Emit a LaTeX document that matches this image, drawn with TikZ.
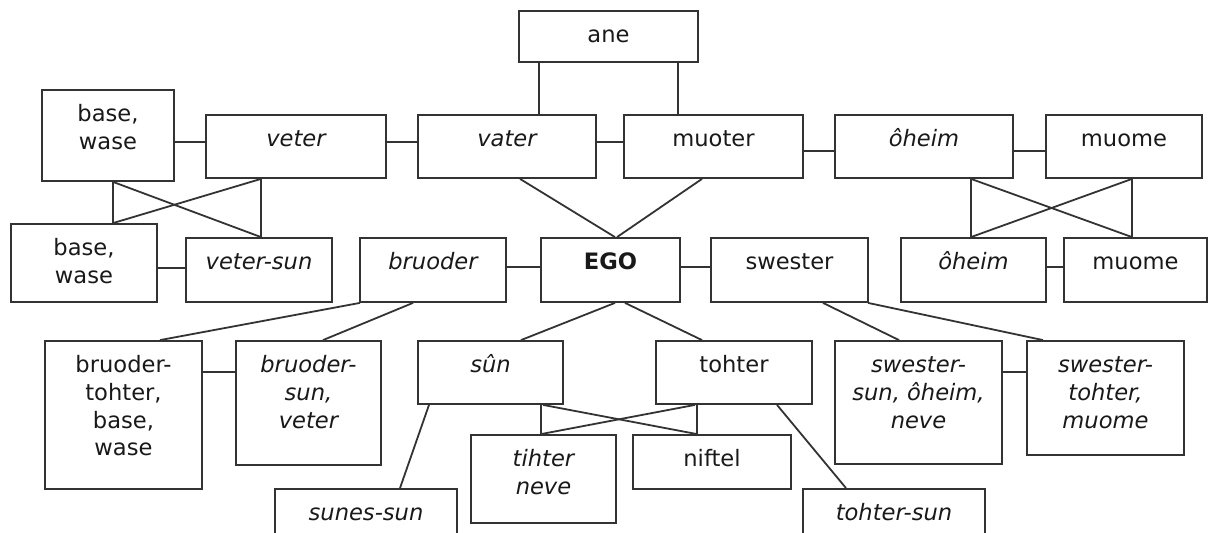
\documentclass[tikz,border=0pt]{standalone}
\usepackage{fontspec}
\setmainfont{DejaVu Sans}
\usetikzlibrary{fit}
\usetikzlibrary{calc}

\tikzset{
    kinbox/.style  = {draw, inner sep = 0pt},
    kinname/.style = {anchor = north, yshift = -6.3pt, inner sep = 0pt, align = center},
    kinrm/.style   = {font = \fontsize{11.3}{13.8}\selectfont},
    kinit/.style   = {font = \fontsize{11.3}{13.8}\selectfont\itshape},
    kinbf/.style   = {font = \fontsize{11.3}{13.8}\selectfont\bfseries},
}

\begin{document}
\begin{tikzpicture}[x = 0.5pt, y = -0.5pt, black!80, line width = 0.9pt, text = black!90]

\useasboundingbox[clip] (0,0) rectangle (1209,533);

% the kin terms
\foreach \NAME/\XA/\YA/\XB/\YB/\FONT/\TEXT in {
    ane/519/11/698/62/kinrm/{ane},
    basea/42/90/174/181/kinrm/{base,\\wase},
    veter/206/115/386/178/kinit/{veter},
    vater/418/115/596/178/kinit/{vater},
    muoter/624/115/803/178/kinrm/{muoter},
    oheima/835/115/1013/178/kinit/{ôheim},
    muomea/1046/115/1202/178/kinrm/{muome},
    baseb/11/224/157/302/kinrm/{base,\\wase},
    vetersun/186/238/332/302/kinit/{veter-sun},
    bruoder/360/238/506/302/kinit/{bruoder},
    ego/541/238/680/302/kinbf/{EGO},
    swester/711/238/868/302/kinrm/{swester},
    oheimb/901/238/1046/302/kinit/{ôheim},
    muomeb/1064/238/1207/302/kinrm/{muome},
    bruodertohter/45/341/202/489/kinrm/{bruoder-\\tohter,\\base,\\wase},
    bruodersun/236/341/381/465/kinit/{bruoder-\\sun,\\veter},
    sun/418/341/563/404/kinit/{sûn},
    tohter/656/341/812/404/kinrm/{tohter},
    swestersun/835/341/1002/464/kinit/{swester-\\sun, ôheim,\\neve},
    swestertohter/1027/341/1184/455/kinit/{swester-\\tohter,\\muome},
    tihter/471/435/616/523/kinit/{tihter\\neve},
    niftel/633/435/791/489/kinrm/{niftel},
    sunessun/275/489/457/560/kinit/{sunes-sun},
    tohtersun/803/489/985/560/kinit/{tohter-sun}}{
    \node [kinbox, fit = {(\XA,\YA) (\XB,\YB)},
           label = {[kinname, \FONT]north:\strut\TEXT}] (\NAME) {};
    };

% side by side
\foreach \LEFT/\RIGHT/\Y in {
    basea/veter/142, veter/vater/142, vater/muoter/142,
    muoter/oheima/151, oheima/muomea/151,
    baseb/vetersun/268, bruoder/ego/267, ego/swester/267,
    oheimb/muomeb/267,
    bruodertohter/bruodersun/372, swestersun/swestertohter/372}{
    \draw (\LEFT.east |- 0,\Y) -- (\RIGHT.west |- 0,\Y);
    };

% descent
\foreach \UPPER/\XU/\LOWER/\XL in {
    ane/539/vater/539, ane/678/muoter/678,
    basea/113/baseb/113, veter/261/vetersun/261,
    basea/113/vetersun/261, veter/261/baseb/113,
    oheima/971/oheimb/971, muomea/1132/muomeb/1132,
    oheima/971/muomeb/1132, muomea/1132/oheimb/971,
    vater/520/ego/615, muoter/702/ego/617,
    bruoder/360/bruodertohter/160, bruoder/413/bruodersun/323,
    ego/615/sun/521, ego/625/tohter/702,
    swester/823/swestersun/899, swester/868/swestertohter/1043,
    sun/541/tihter/541, tohter/697/niftel/697,
    sun/543/niftel/697, tohter/695/tihter/541,
    sun/429/sunessun/400, tohter/777/tohtersun/846}{
    \draw (\UPPER.south -| \XU,0) -- (\LOWER.north -| \XL,0);
    };

\end{tikzpicture}
\end{document}
